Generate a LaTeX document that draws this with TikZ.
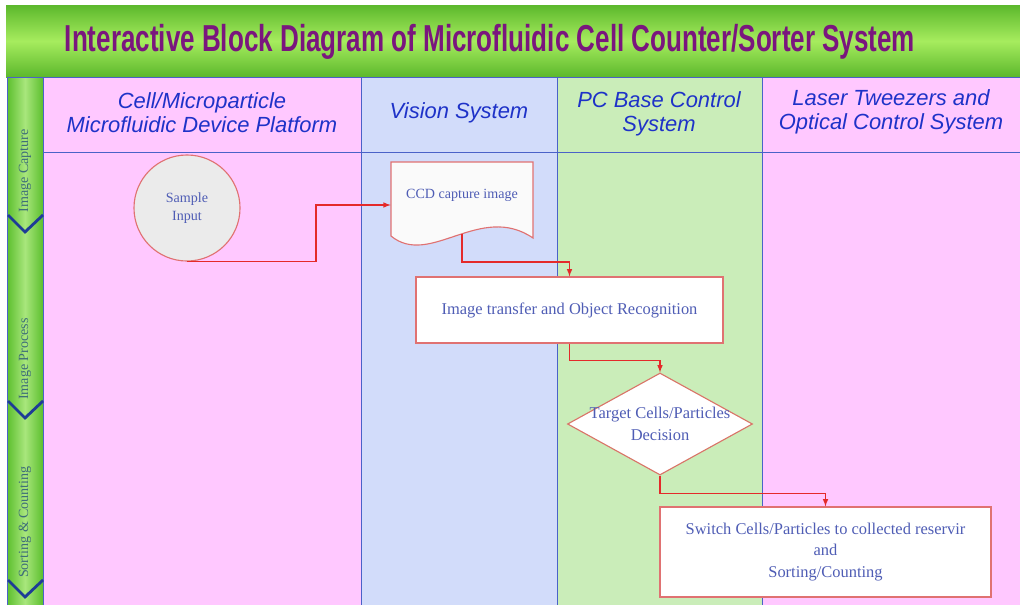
\documentclass[tikz,border=0pt]{standalone}
\usepackage{fontspec}
\setmainfont{Liberation Serif}
\newfontfamily\headfont{Liberation Sans}
\usepackage{graphicx}
\usepackage{xcolor}
\usepackage{tikz}
\usetikzlibrary{shapes.geometric}

\definecolor{lanepink}{HTML}{FFC8FF}
\definecolor{laneblue}{HTML}{D2DCFA}
\definecolor{lanegreen}{HTML}{CAEDB9}
\definecolor{laneline}{HTML}{4A62C8}
\definecolor{headblue}{HTML}{1E32C8}
\definecolor{textblue}{HTML}{4F5DB5}
\definecolor{flowred}{HTML}{E42A2A}
\definecolor{boxred}{HTML}{E07272}
\definecolor{titlepurple}{HTML}{7A167E}
\definecolor{titlegreen}{HTML}{5CB82C}
\definecolor{titlelight}{HTML}{A6EC5E}
\definecolor{bargreen}{HTML}{5CBF2E}
\definecolor{barlight}{HTML}{A8E67C}
\definecolor{barteal}{HTML}{3E6E78}
\definecolor{chevron}{HTML}{1E3C96}

\tikzset{
  lanehead/.style={font=\headfont\itshape\fontsize{15.6}{17}\selectfont, text=headblue, align=center},
  barlabel/.style={font=\fontsize{10}{12}\selectfont, text=barteal, rotate=90},
  smalltext/.style={font=\fontsize{10}{13}\selectfont, text=textblue, align=center},
  process/.style={draw=boxred, fill=white, rectangle, line width=0.8pt, text=textblue, align=center, font=\fontsize{11.7}{15.6}\selectfont},
  flow/.style={draw=flowred, line width=0.8pt, ->}
}

\begin{document}
\begin{tikzpicture}[x=0.025cm, y=-0.025cm, >=latex]
        \useasboundingbox (0,0) rectangle (1020,605);
        \fill[white] (0,0) rectangle (1020,605);

        % Title band
        \shade[top color=titlegreen, bottom color=titlegreen, middle color=titlelight] (6,5) rectangle (1020,77);
        \node (title) [anchor=base, inner sep=0pt] at (490,52) {\resizebox{21.25cm}{0.68cm}{\headfont\bfseries\color{titlepurple}Interactive Block Diagram of Microfluidic Cell Counter/Sorter System}};

        % Lanes
        \fill[lanepink] (43,77) rectangle (361,605);
        \fill[laneblue] (361,77) rectangle (557,605);
        \fill[lanegreen] (557,77) rectangle (762,605);
        \fill[lanepink] (762,77) rectangle (1020,605);
        \shade[left color=bargreen, right color=bargreen, middle color=barlight] (7,77) rectangle (43,605);
        \draw[laneline] (7,77) -- (1020,77);
        \draw[laneline] (43,152) -- (1020,152);
        \foreach \x in {7,43,361,557,762}
            \draw[laneline] (\x,77) -- (\x,605);
        \foreach \y in {215,401,580}
            \draw[chevron, line width=2pt] (8,\y) -- (25,\y+17) -- (43,\y);

        % Lane labels
        \node (capture) [barlabel] at (25,171) {Image Capture};
        \node (imgproc) [barlabel] at (25,359) {Image Process};
        \node (sorting) [barlabel] at (25,522) {Sorting \& Counting};
        \node (platform) [lanehead] at (202,113) {Cell/Microparticle\\Microfluidic Device Platform};
        \node (vision) [lanehead] at (459,113) {Vision System};
        \node (pcbase) [lanehead] at (659,114) {PC Base Control\\System};
        \node (laser) [lanehead] at (891,112) {Laser Tweezers and\\Optical Control System};

        % Nodes
        \node (sample) [draw=boxred, fill=black!8, circle, line width=0.8pt, minimum size=2.65cm, smalltext] at (187,208) {Sample\\Input};
        \draw[draw=boxred, fill=white!98!black, line width=0.8pt] (391,162) -- (533,162) -- (533,238) .. controls (480,202) and (430,268) .. (391,236) -- cycle;
        \node (ccd) [rectangle, minimum width=3.55cm, minimum height=2.15cm] at (462,205) {};
        \node (ccdtext) [smalltext] at (462,195) {CCD capture image};
        \coordinate (ccdout) at (462,234);
        \node (recog) [process, minimum width=7.675cm, minimum height=1.65cm] at (569.5,310) {Image transfer and Object Recognition};
        \node (decide) [draw=boxred!80!brown, fill=white, diamond, line width=0.8pt, inner sep=0pt, minimum width=4.625cm, minimum height=2.55cm] at (660,424) {};
        \node (decidetext) [process, draw=none, fill=none] at (decide) {Target Cells/Particles\\Decision};
        \node (switch) [process, minimum width=8.275cm, minimum height=2.25cm] at (825.5,552) {Switch Cells/Particles to collected reservir\\and\\Sorting/Counting};

        % Arrows
        \draw[flow] (sample.south) -- ++(129,0) |- (ccd.west);
        \draw[flow] (ccdout) -- ++(0,28) -| (recog.north);
        \draw[flow] (recog.south) -- ++(0,17) -| (decide.north);
        \draw[flow] (decide.south) -- ++(0,18) -| (switch.north);
    \end{tikzpicture}
\end{document}
